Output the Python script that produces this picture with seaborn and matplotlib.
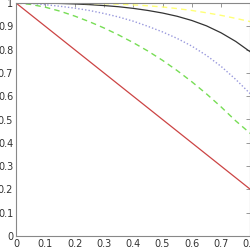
import numpy as np
import pandas as pd
import matplotlib
matplotlib.use("Agg")
import matplotlib.pyplot as plt
import seaborn as sns

x_vals = [0.0, 0.05, 0.1, 0.15, 0.2, 0.25, 0.3, 0.35, 0.4, 0.45, 0.5, 0.55, 0.6, 0.65, 0.7, 0.75, 0.8]
red_vals = [1.0, 0.95, 0.9, 0.85, 0.8, 0.75, 0.7, 0.65, 0.6, 0.55, 0.5, 0.45, 0.4, 0.35, 0.3, 0.25, 0.2]
green_vals = [1.0, 0.994, 0.982, 0.965, 0.944, 0.92, 0.893, 0.863, 0.83, 0.794, 0.754, 0.71, 0.662, 0.61, 0.554, 0.494, 0.44]
blue_vals = [1.0, 0.998, 0.993, 0.986, 0.978, 0.968, 0.955, 0.94, 0.922, 0.9, 0.876, 0.848, 0.815, 0.775, 0.728, 0.672, 0.61]
black_vals = [1.0, 1.0, 0.999, 0.998, 0.996, 0.993, 0.989, 0.984, 0.977, 0.968, 0.957, 0.943, 0.925, 0.902, 0.872, 0.835, 0.79]
yellow_vals = [1.0, 1.0, 1.0, 1.0, 0.999, 0.998, 0.997, 0.995, 0.992, 0.988, 0.983, 0.976, 0.968, 0.958, 0.947, 0.934, 0.92]
x_ticks = [0, 0.1, 0.2, 0.3, 0.4, 0.5, 0.6, 0.7, 0.8]
x_ticklabels = ["0", "0.1", "0.2", "0.3", "0.4", "0.5", "0.6", "0.7", "0.8"]
y_ticks = [0, 0.1, 0.2, 0.3, 0.4, 0.5, 0.6, 0.7, 0.8, 0.9, 1.0]
y_ticklabels = ["0", "0.1", "0.2", "0.3", "0.4", "0.5", "0.6", "0.7", "0.8", "0.9", "1"]

sns.set_style("white")
plt.rcParams['font.family'] = ['DejaVu Sans']

fig = plt.figure(figsize=(2.5, 2.5), dpi=100)
ax = fig.add_axes([0.064, 0.056, 0.9376, 0.932])

series = [
    (red_vals, "#cc4444", "-", 0.9),
    (green_vals, "#77dd55", (0, (4, 3)), 1.0),
    (blue_vals, "#9999dd", (0, (1, 1.5)), 1.0),
    (black_vals, "#333333", "-", 0.9),
    (yellow_vals, "#ffff77", (0, (4, 3)), 1.0),
]
for vals, col, ls, lw in series:
    df = pd.DataFrame({"x": x_vals, "y": vals})
    sns.lineplot(data=df, x="x", y="y", ax=ax, color=col, linestyle=ls, linewidth=lw)

ax.set_xlim(0, 0.8)
ax.set_ylim(0, 1)
ax.set_xticks(x_ticks)
ax.set_xticklabels(x_ticklabels)
ax.set_yticks(y_ticks)
ax.set_yticklabels(y_ticklabels)
ax.set_xlabel("")
ax.set_ylabel("")
ax.tick_params(direction="in", length=3, width=0.6, colors="#888888", labelcolor="#333333",
               labelsize=7, pad=2, top=True, right=True)
for sp in ax.spines.values():
    sp.set_color("#888888")
    sp.set_linewidth(0.8)

fig.savefig("out.png", dpi=100)
